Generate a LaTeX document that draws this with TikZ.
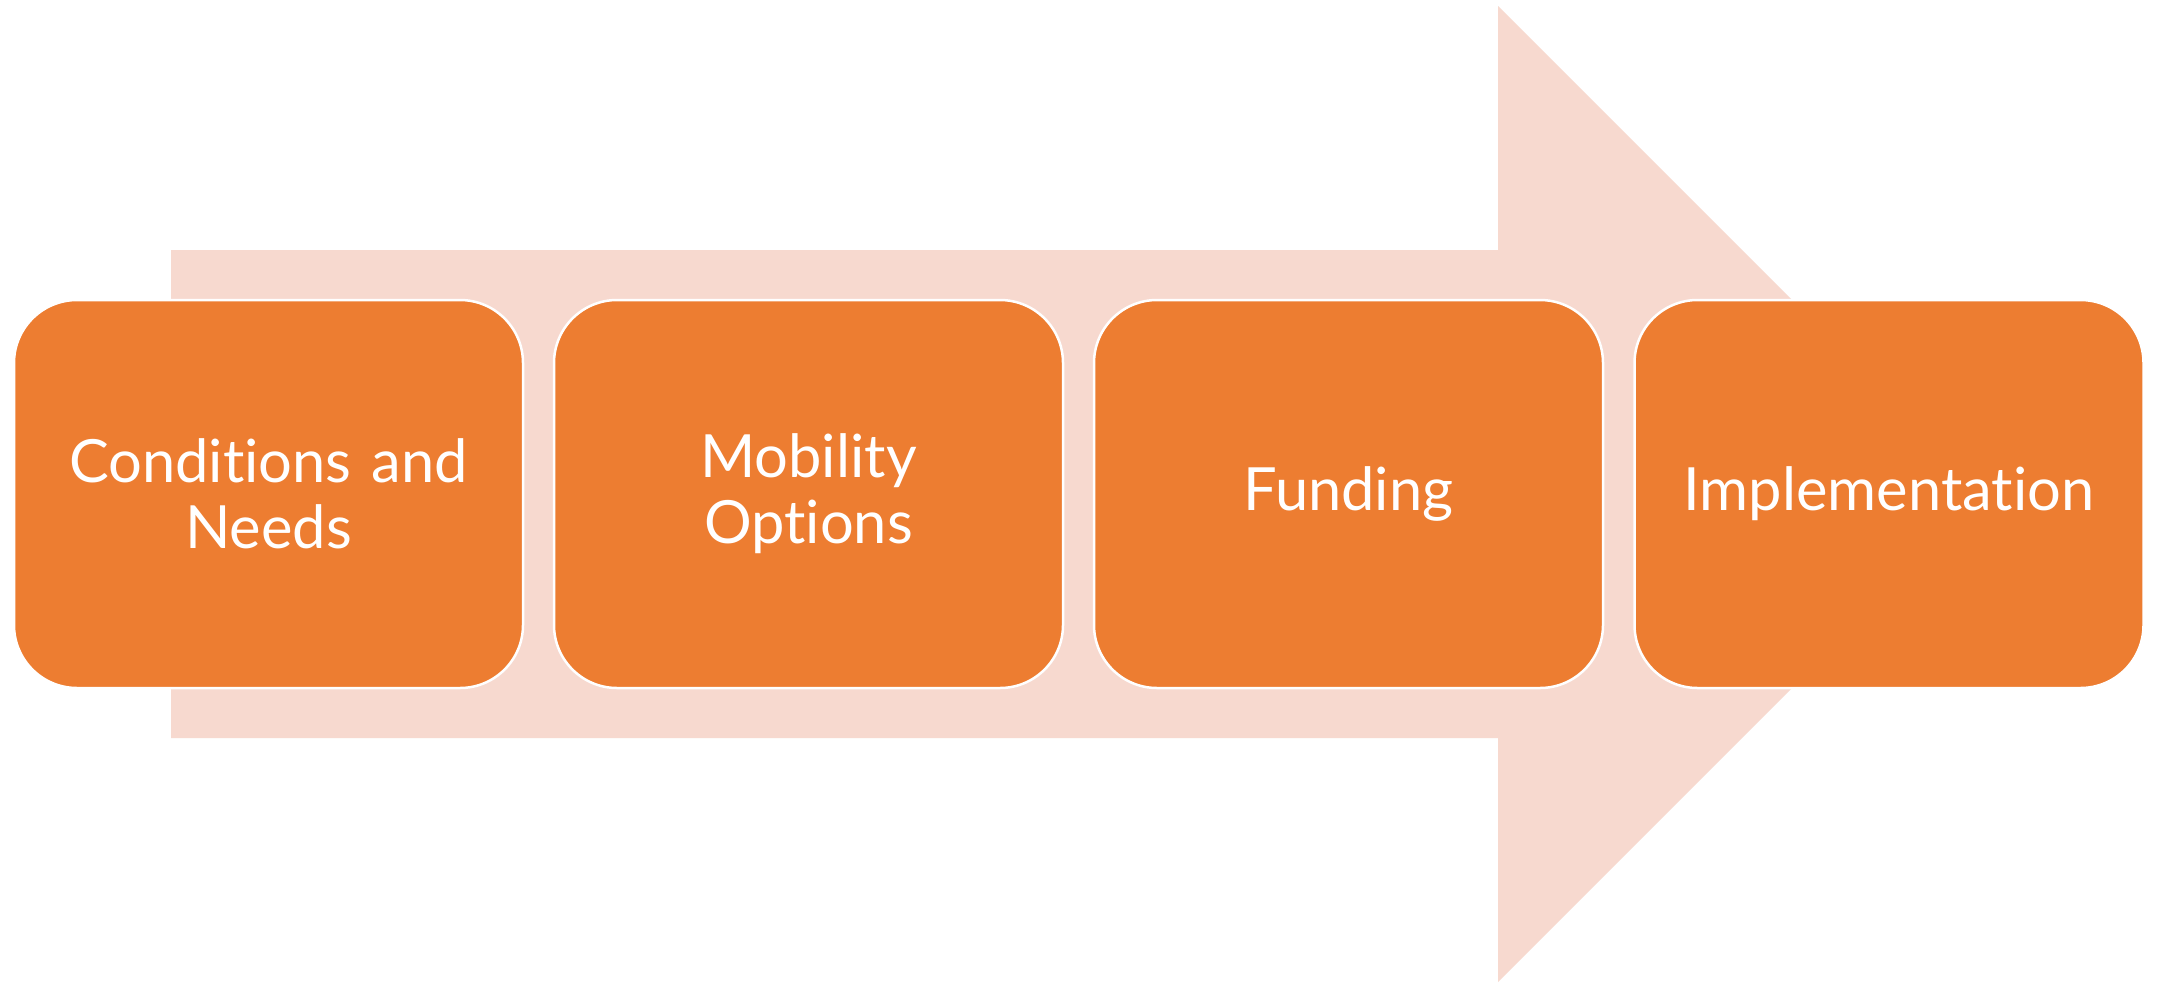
\documentclass[tikz,border=0pt]{standalone}
\usepackage{fontspec}
\setmainfont{Lato}[Ligatures={NoCommon,NoContextual},RawFeature={-liga;-clig}]
\definecolor{boxorange}{HTML}{ED7D31}
\definecolor{arrowpink}{HTML}{F7D9CF}
\begin{document}
\begin{tikzpicture}[x=1pt,y=-1pt,
  stepbox/.style={fill=boxorange, draw=white, line width=2.5pt, rounded corners=63pt,
    minimum width=509pt, minimum height=388pt, anchor=center, text=white,
    align=center, text width=470pt,
    font=\fontsize{59.6}{65.7}\selectfont},
  bigarrow/.style={fill=arrowpink, draw=none}]
\useasboundingbox (0,0) rectangle (2162,983);
\fill[white] (0,0) rectangle (2162,983);
\fill[bigarrow] (171,250) -- (1498,250) -- (1498,6) -- (1986,494) -- (1498,982) -- (1498,738) -- (171,738) -- cycle;
\node[stepbox] (s1) at (268.5,494) {Conditions and\\Needs};
\node[stepbox] (s2) at (808.5,494) {Mobility\\Options};
\node[stepbox] (s3) at (1348.5,494) {Funding};
\node[stepbox] (s4) at (1889,494) {Implementation};
\end{tikzpicture}
\end{document}
